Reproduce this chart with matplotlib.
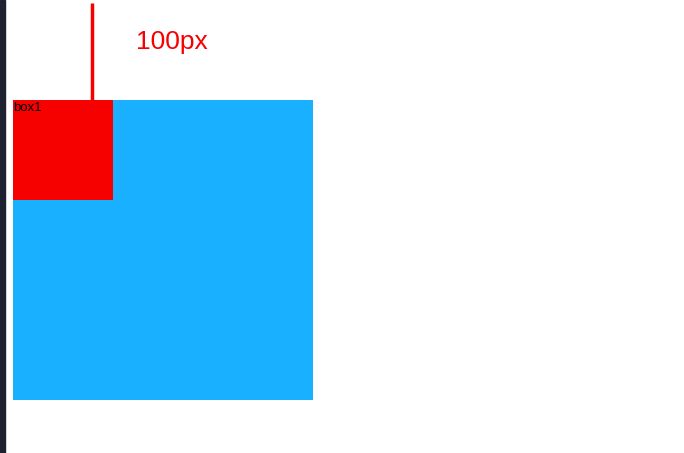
import matplotlib.pyplot as plt
from matplotlib.patches import Rectangle

# page layout in screen pixels (x, y, width, height), y grows downward
box_names = ['container', 'box1']
box_rects = [(13, 100, 300, 300), (13, 100, 100, 100)]
box_colors = ['#18b0ff', '#f70000']

marker_x = 92
marker_y = (3, 100)
marker_label = '100px'

fig = plt.figure(figsize=(6.84, 4.53), dpi=100)
ax = fig.add_axes([0, 0, 1, 1])
ax.set_xlim(0, 684)
ax.set_ylim(453, 0)
ax.axis('off')

# dark window edge on the left
ax.add_patch(Rectangle((0, 0), 5, 453, color='#1e2230'))

for rect, col in zip(box_rects, box_colors):
    x, y, w, h = rect
    ax.add_patch(Rectangle((x, y), w, h, color=col, lw=0))

ax.text(box_rects[1][0], box_rects[1][1] + 2, box_names[1], fontsize=9.5,
        color='black', va='top', ha='left', family='Liberation Sans')

ax.plot([marker_x, marker_x], marker_y, color='#f70000', lw=2.5, solid_capstyle='butt')
ax.text(136, 42, marker_label, fontsize=19, color='#f70000', va='center',
        ha='left', family='Liberation Sans')

fig.savefig('out.png', dpi=100)
